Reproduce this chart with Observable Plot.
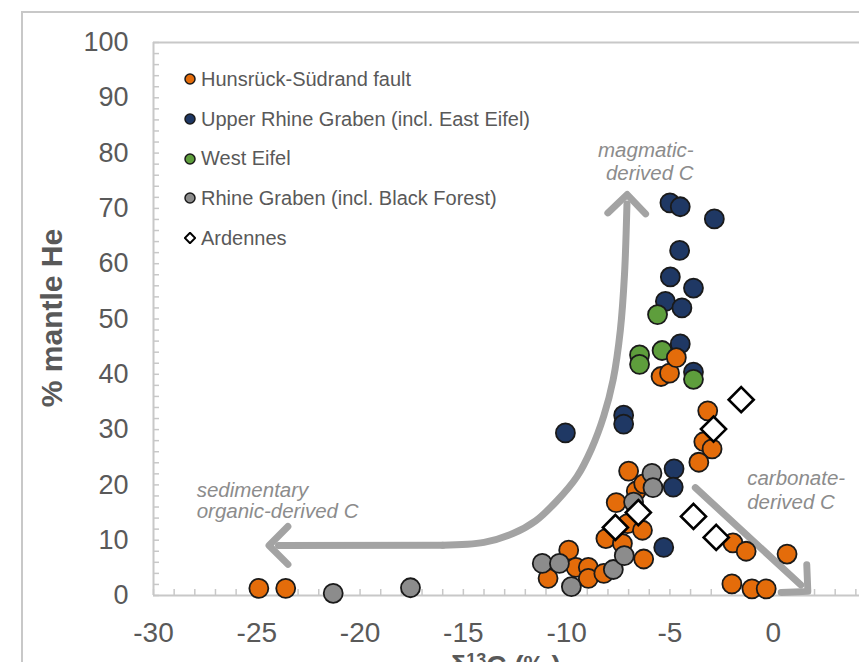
<!DOCTYPE html>
<html><head><meta charset="utf-8">
<script src="https://cdn.jsdelivr.net/npm/d3@7"></script>
<script src="https://cdn.jsdelivr.net/npm/@observablehq/plot@0.6"></script>
<style>
body{margin:0;background:#fff;}
#wrap{position:relative;width:859px;height:662px;overflow:hidden;font-family:"Liberation Sans",Arial,sans-serif;background:#fff;}
#frame{position:absolute;left:21px;top:11px;width:1000px;height:1000px;border:2px solid #c8c8c8;box-sizing:border-box;}
#chart{position:absolute;left:0;top:0;width:900px;height:700px;}
#chart svg{max-width:none !important;}
.leg{position:absolute;left:184px;height:26px;display:flex;align-items:center;font-size:20px;color:#595959;white-space:nowrap;}
.leg svg{margin-right:5px;}
#ytitle{position:absolute;left:52px;top:318px;transform:translate(-50%,-50%) rotate(-90deg);font-weight:bold;font-size:30px;color:#595959;white-space:nowrap;}
#xtitle{position:absolute;left:505px;top:652px;transform:translateX(-50%);font-weight:bold;font-size:28px;line-height:28px;color:#595959;white-space:nowrap;}
#xtitle sup{font-size:18px;vertical-align:9px;line-height:0;}
</style>
</head><body>
<div id="wrap">
  <div id="frame"></div>
  <div id="chart"></div>
  <div id="legend"></div>
  <div id="ytitle">% mantle He</div>
  <div id="xtitle">δ<sup>13</sup>C (‰)</div>
</div>
<script>
// ---- data (δ13C ‰, % mantle He) ----
const hunsrueck = [
  [-24.9,1.3],[-23.6,1.3],
  [-10.9,3.1],[-9.9,8.2],[-9.55,5.1],[-8.95,5.1],[-8.95,3.1],[-8.2,4.0],
  [-8.1,10.3],[-7.3,9.4],[-7.05,13.0],[-6.33,11.8],[-6.27,6.6],
  [-7.6,16.8],[-7.0,22.5],[-6.63,18.9],[-6.27,20.2],
  [-5.43,39.6],[-5.02,40.2],[-4.69,43.0],
  [-3.17,33.4],[-3.36,27.8],[-2.96,26.5],[-3.6,24.1],
  [-1.95,9.5],[-1.31,8.0],[0.67,7.5],[-2.0,2.1],[-1.03,1.2],[-0.34,1.2]
];
const upperRhine = [
  [-5.0,71.0],[-4.5,70.3],[-2.85,68.1],[-4.53,62.4],[-4.98,57.6],[-3.86,55.6],
  [-5.22,53.2],[-4.42,52.0],[-4.5,45.5],[-3.86,40.4],[-7.24,32.6],[-7.24,31.0],
  [-10.06,29.4],[-4.8,22.9],[-4.84,19.6],[-5.3,8.7]
];
const westEifel = [[-5.6,50.8],[-5.38,44.3],[-6.47,43.5],[-6.47,41.8],[-3.86,39.1]];
const rhineGraben = [
  [-21.3,0.4],[-17.56,1.4],
  [-11.18,5.8],[-10.35,5.8],[-9.77,1.6],[-7.74,4.7],[-7.21,7.2],
  [-6.76,16.9],[-5.87,22.1],[-5.82,19.5]
];
const ardennes = [[-1.55,35.4],[-2.89,30.1],[-3.86,14.3],[-2.76,10.5],[-6.53,15.0],[-7.64,12.3]];

const seriesNames = ["Hunsrück-Südrand fault","Upper Rhine Graben (incl. East Eifel)","West Eifel","Rhine Graben (incl. Black Forest)","Ardennes"];
const seriesColors = ["#E46C0A","#1F3864","#5E9E3C","#8C8C8C","#FFFFFF"];
const seriesSymbols = ["circle","circle","circle","circle","diamond"];
const seriesData = [hunsrueck, upperRhine, westEifel, rhineGraben, ardennes];
const drawOrder = [1, 2, 0, 3, 4];

const xTicks = [-30,-25,-20,-15,-10,-5,0];
const yTicks = [0,10,20,30,40,50,60,70,80,90,100];
const xMinor = d3.range(-30, 5, 1);
const yMinor = d3.range(0, 101, 2);

// annotation arrows (path points in data coords)
const arrowCurve = [
  {part:"left", x:-16, y:9.1},{part:"left", x:-23.95, y:9.05},
  {part:"up", x:-16, y:9.1},{part:"up", x:-14, y:9.6},{part:"up", x:-12.6, y:11.2},
  {part:"up", x:-11.5, y:13.5},{part:"up", x:-10.5, y:17.0},{part:"up", x:-9.5, y:21.5},
  {part:"up", x:-8.8, y:26.5},{part:"up", x:-8.2, y:32.5},{part:"up", x:-7.75, y:39},
  {part:"up", x:-7.4, y:48},{part:"up", x:-7.2, y:58},{part:"up", x:-7.08, y:70.8}
];
const arrowStraight = [{x:-3.77, y:19.5},{x:1.34, y:1.9}];

const notesRight = [
  {x:-3.85, y:80.4, text:"magmatic-"},
  {x:-3.85, y:76.3, text:"derived C"}
];
const notesLeft = [
  {x:-27.91, y:19.0, text:"sedimentary"},
  {x:-27.91, y:15.2, text:"organic-derived C"},
  {x:-1.26, y:21.2, text:"carbonate-"},
  {x:-1.26, y:16.8, text:"derived C"}
];

// ---- build table ----
const points = [];
drawOrder.forEach(i => seriesData[i].forEach(([x, y]) => points.push({x, y, series: seriesNames[i], i})));

const axisGrey = "#c8c8c8";
const plotW = 900, plotH = 700, mL = 153, mR = 24, mT = 42, mB = 105;
const innerW = plotW - mL - mR, innerH = plotH - mT - mB;
const noteStyle = {fontStyle: "italic", fontSize: 20.5, fill: "#8c8c8c"};

const chart = Plot.plot({
  width: plotW, height: plotH,
  marginLeft: mL, marginRight: mR, marginTop: mT, marginBottom: mB,
  style: {fontFamily: '"Liberation Sans", Arial, sans-serif', color: "#595959", background: "transparent", overflow: "visible", maxWidth: "none"},
  x: {domain: [-30, 5]},
  y: {domain: [0, 100]},
  marks: [
    Plot.ruleY([100], {stroke: axisGrey, strokeWidth: 2}),
    Plot.ruleY([0], {stroke: axisGrey, strokeWidth: 2}),
    Plot.ruleX([-30], {y1: 0, y2: 100, stroke: axisGrey, strokeWidth: 2}),
    Plot.tickX(xMinor, {x: d => d, stroke: axisGrey, strokeWidth: 1.5, insetTop: innerH - 6}),
    Plot.tickY(yMinor, {y: d => d, stroke: axisGrey, strokeWidth: 1.5, insetRight: innerW - 6}),
    Plot.axisY({ticks: yTicks, tickSize: 0, tickPadding: 25, fontSize: 27, label: null, tickFormat: d => String(d)}),
    Plot.axisX({ticks: xTicks, tickSize: 0, tickPadding: 27, fontSize: 28, label: null, tickFormat: d => String(d)}),
    Plot.line(arrowCurve, {x: "x", y: "y", z: "part", curve: "catmull-rom", stroke: "#a3a3a3", strokeWidth: 7, markerEnd: "arrow"}),
    Plot.line(arrowStraight, {x: "x", y: "y", stroke: "#a3a3a3", strokeWidth: 7, markerEnd: "arrow"}),
    Plot.text(notesRight, {x: "x", y: "y", text: "text", textAnchor: "end", ...noteStyle}),
    Plot.text(notesLeft, {x: "x", y: "y", text: "text", textAnchor: "start", ...noteStyle}),
    Plot.dot(points.filter(d => d.i !== 4), {x: "x", y: "y", r: 9.5, fill: d => seriesColors[d.i], stroke: "#1a1a1a", strokeWidth: 1.8}),
    Plot.dot(points.filter(d => d.i === 4), {x: "x", y: "y", r: 11.3, symbol: "diamond2", fill: "#ffffff", stroke: "#000000", strokeWidth: 2.6})
  ]
});
// enlarge arrowheads (keep chevron thickness equal to the shaft)
d3.select(chart).selectAll("marker").attr("markerWidth", 9).attr("markerHeight", 9).attr("stroke-width", 1.1);
document.getElementById("chart").appendChild(chart);

// ---- legend ----
const legendRows = [79, 119, 158.5, 198, 238];
const legend = document.getElementById("legend");
seriesNames.forEach((name, i) => {
  const row = document.createElement("div");
  row.className = "leg";
  row.style.top = (legendRows[i] - 13) + "px";
  const shape = seriesSymbols[i] === "diamond"
    ? `<polygon points="6,0.8 11.2,6 6,11.2 0.8,6" fill="#fff" stroke="#000" stroke-width="2"/>`
    : `<circle cx="6" cy="6" r="5" fill="${seriesColors[i]}" stroke="#1a1a1a" stroke-width="1.5"/>`;
  row.innerHTML = `<svg width="12" height="12" viewBox="0 0 12 12">${shape}</svg><span>${name}</span>`;
  legend.appendChild(row);
});
</script>
</body></html>
